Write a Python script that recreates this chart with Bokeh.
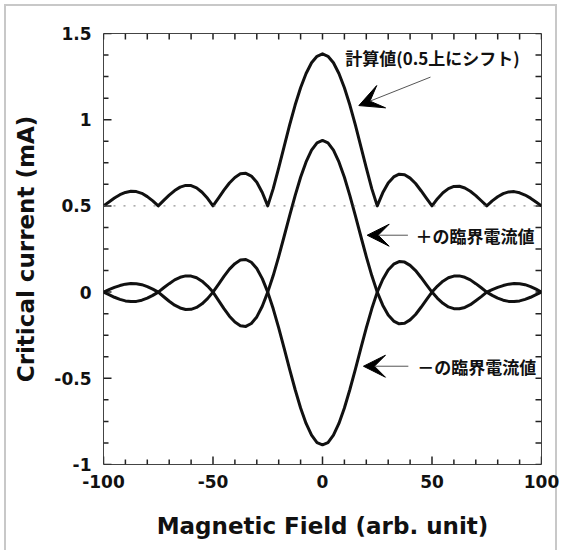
import math
from bokeh.plotting import figure
from bokeh.models import (Range1d, SingleIntervalTicker, Label, Arrow,
                          VeeHead, Span, ColumnDataSource)
from bokeh.embed import file_html
from bokeh.resources import INLINE

# ---------------- data ----------------
x_field = [-100, -97.5, -95, -92.5, -90, -87.5, -85, -82.5, -80, -77.5,
           -75, -72.5, -70, -67.5, -65, -62.5, -60, -57.5, -55, -52.5,
           -50, -47.5, -45, -42.5, -40, -37.5, -35, -32.5, -30, -27.5,
           -25, -22.5, -20, -17.5, -15, -12.5, -10, -7.5, -5, -2.5,
           0,
           2.5, 5, 7.5, 10, 12.5, 15, 17.5, 20, 22.5, 25,
           27.5, 30, 32.5, 35, 37.5, 40, 42.5, 45, 47.5, 50,
           52.5, 55, 57.5, 60, 62.5, 65, 67.5, 70, 72.5, 75,
           77.5, 80, 82.5, 85, 87.5, 90, 92.5, 95, 97.5, 100]

calc_shifted = [0.500, 0.523, 0.546, 0.565, 0.578, 0.585, 0.583, 0.573, 0.554, 0.529,
                0.500, 0.532, 0.562, 0.589, 0.609, 0.619, 0.618, 0.605, 0.579, 0.544,
                0.500, 0.545, 0.591, 0.633, 0.665, 0.686, 0.689, 0.673, 0.637, 0.578,
                0.500, 0.600, 0.720, 0.845, 0.970, 1.085, 1.185, 1.268, 1.330, 1.368,
                1.382,
                1.368, 1.330, 1.268, 1.185, 1.085, 0.970, 0.845, 0.720, 0.600, 0.500,
                0.576, 0.633, 0.668, 0.684, 0.681, 0.661, 0.630, 0.588, 0.544, 0.500,
                0.542, 0.576, 0.600, 0.613, 0.614, 0.604, 0.585, 0.560, 0.530, 0.500,
                0.529, 0.553, 0.571, 0.581, 0.583, 0.576, 0.563, 0.545, 0.523, 0.500]

plus_critical = [0.000, -0.015, -0.030, -0.042, -0.051, -0.055, -0.054, -0.047, -0.035, -0.019,
                 0.000, 0.025, 0.049, 0.071, 0.086, 0.094, 0.093, 0.083, 0.063, 0.035,
                 0.000, -0.048, -0.096, -0.140, -0.174, -0.195, -0.199, -0.182, -0.144, -0.082,
                 0.000, 0.096, 0.206, 0.324, 0.444, 0.560, 0.666, 0.755, 0.823, 0.866,
                 0.880,
                 0.866, 0.823, 0.755, 0.666, 0.560, 0.444, 0.324, 0.206, 0.096, 0.000,
                 -0.076, -0.133, -0.168, -0.184, -0.181, -0.161, -0.130, -0.088, -0.044, 0.000,
                 0.035, 0.063, 0.083, 0.093, 0.094, 0.086, 0.071, 0.049, 0.025, 0.000,
                 -0.019, -0.035, -0.047, -0.054, -0.055, -0.051, -0.042, -0.030, -0.015, 0.000]

minus_critical = [0.000, 0.014, 0.027, 0.038, 0.046, 0.050, 0.049, 0.043, 0.032, 0.017,
                  0.000, -0.027, -0.053, -0.076, -0.092, -0.101, -0.100, -0.089, -0.068, -0.038,
                  0.000, 0.045, 0.091, 0.133, 0.165, 0.186, 0.189, 0.173, 0.137, 0.078,
                  0.000, -0.097, -0.208, -0.327, -0.448, -0.565, -0.672, -0.762, -0.830, -0.873,
                  -0.886,
                  -0.873, -0.830, -0.762, -0.672, -0.565, -0.448, -0.327, -0.208, -0.097, 0.000,
                  0.073, 0.128, 0.162, 0.177, 0.174, 0.155, 0.125, 0.085, 0.042, 0.000,
                  -0.036, -0.065, -0.086, -0.096, -0.097, -0.089, -0.073, -0.050, -0.026, 0.000,
                  0.014, 0.027, 0.038, 0.046, 0.050, 0.049, 0.043, 0.032, 0.017, 0.000]

shift_level = 0.5

x_ticks = [-100, -50, 0, 50, 100]
x_tick_labels = ["-100", "-50", "0", "50", "100"]
y_ticks = [-1, -0.5, 0, 0.5, 1, 1.5]
y_tick_labels = ["-1", "-0.5", "0", "0.5", "1", "1.5"]

x_label = "Magnetic Field (arb. unit)"
y_label = "Critical current (mA)"
note_calc = "計算値(0.5上にシフト)"
note_plus = "＋の臨界電流値"
note_minus = "－の臨界電流値"

# ---------------- figure ----------------
AX_FONT = "DejaVu Sans"
JP_FONT = "Noto Sans CJK JP"
BORDER = "#c8c8c8"
TICK = "#222222"
X0, X1, Y0, Y1 = -100, 100, -1, 1.5

p = figure(width=564, height=550, x_range=Range1d(X0, X1), y_range=Range1d(Y0, Y1),
           output_backend="svg", toolbar_location=None,
           min_border_left=103, min_border_right=23, min_border_top=33, min_border_bottom=86)
p.background_fill_color = "white"
p.border_fill_color = None
# light-grey frame around the whole picture (left, top, right edges)
p.styles = {
    "background": (f"linear-gradient({BORDER},{BORDER}) 4px 4px / 2px 100% no-repeat, "
                   f"linear-gradient({BORDER},{BORDER}) 4px 4px / 553px 2px no-repeat, "
                   f"linear-gradient({BORDER},{BORDER}) 555px 4px / 2px 100% no-repeat, white")
}
p.grid.visible = False
p.outline_line_color = "#444444"
p.outline_line_width = 1

for ax in (p.xaxis[0], p.yaxis[0]):
    ax.major_tick_in = 0
    ax.major_tick_out = 0
    ax.minor_tick_in = 0
    ax.minor_tick_out = 0
    ax.axis_line_color = None
    ax.major_label_text_font = AX_FONT
    ax.major_label_text_font_style = "bold"
    ax.major_label_text_font_size = "17px"
    ax.major_label_text_color = "#111111"
    ax.axis_label_text_font = AX_FONT
    ax.axis_label_text_font_style = "bold"
    ax.axis_label_text_font_size = "23px"
    ax.axis_label_text_color = "#111111"

xa = p.xaxis[0]
xa.ticker = SingleIntervalTicker(interval=50, num_minor_ticks=5)
xa.major_label_overrides = dict(zip(x_ticks, x_tick_labels))
xa.major_label_standoff = 10
xa.axis_label = x_label
xa.axis_label_standoff = 22

ya = p.yaxis[0]
ya.ticker = SingleIntervalTicker(interval=0.5, num_minor_ticks=4)
ya.major_label_overrides = dict(zip(y_ticks, y_tick_labels))
ya.major_label_standoff = 12
ya.axis_label = y_label
ya.axis_label_standoff = 12

# inward tick marks on all four sides, drawn as screen-length segments from the frame edge
x_minor = [v for v in [X0 + 10 * i for i in range(21)] if v not in x_ticks]
y_minor = [v for v in [Y0 + 0.125 * i for i in range(21)] if v not in y_ticks]
all_x = x_ticks + x_minor
all_y = y_ticks + y_minor


def ticks(xs, ys, angle, length):
    src_t = ColumnDataSource(dict(x=xs, y=ys))
    p.ray("x", "y", source=src_t, length=length, length_units="screen", angle=angle,
          line_color=TICK, line_width=1.5)


ticks(x_ticks, [Y0] * len(x_ticks), math.pi / 2, 8)        # bottom major
ticks(x_minor, [Y0] * len(x_minor), math.pi / 2, 5)        # bottom minor
ticks([X0] * len(y_ticks), y_ticks, 0, 8)                  # left major
ticks([X0] * len(y_minor), y_minor, 0, 5)                  # left minor
ticks(all_x, [Y1] * len(all_x), -math.pi / 2, 6)           # top
ticks([X1] * len(all_y), all_y, math.pi, 6)                # right

# dotted reference line at the shift level
p.add_layout(Span(location=shift_level, dimension="width", line_color="#777777",
                  line_width=1, line_dash="2 8"))

src = ColumnDataSource(dict(x=x_field, calc=calc_shifted, plus=plus_critical, minus=minus_critical))
for col in ("calc", "plus", "minus"):
    p.line("x", col, source=src, line_color="#111111", line_width=3, line_join="round")

# annotations
p.add_layout(Label(x=10.4, y=1.36, text=note_calc, text_font=JP_FONT, text_font_style="bold",
                   text_font_size="17px", text_baseline="middle", text_color="#111111"))
p.add_layout(Arrow(end=VeeHead(size=24, fill_color="black", line_color="black"),
                   x_start=49.3, y_start=1.247, x_end=16.6, y_end=1.082,
                   line_color="#555555", line_width=1))

p.add_layout(Label(x=42.5, y=0.33, text=note_plus, text_font=JP_FONT, text_font_style="bold",
                   text_font_size="17px", text_baseline="middle", text_color="#111111"))
p.add_layout(Arrow(end=VeeHead(size=22, fill_color="black", line_color="black"),
                   x_start=39.0, y_start=0.33, x_end=20.4, y_end=0.33,
                   line_color="#555555", line_width=1))

p.add_layout(Label(x=43.3, y=-0.43, text=note_minus, text_font=JP_FONT, text_font_style="bold",
                   text_font_size="17px", text_baseline="middle", text_color="#111111"))
p.add_layout(Arrow(end=VeeHead(size=22, fill_color="black", line_color="black"),
                   x_start=39.2, y_start=-0.43, x_end=18.7, y_end=-0.43,
                   line_color="#555555", line_width=1))

open("out.html", "w").write(file_html(p, INLINE))
